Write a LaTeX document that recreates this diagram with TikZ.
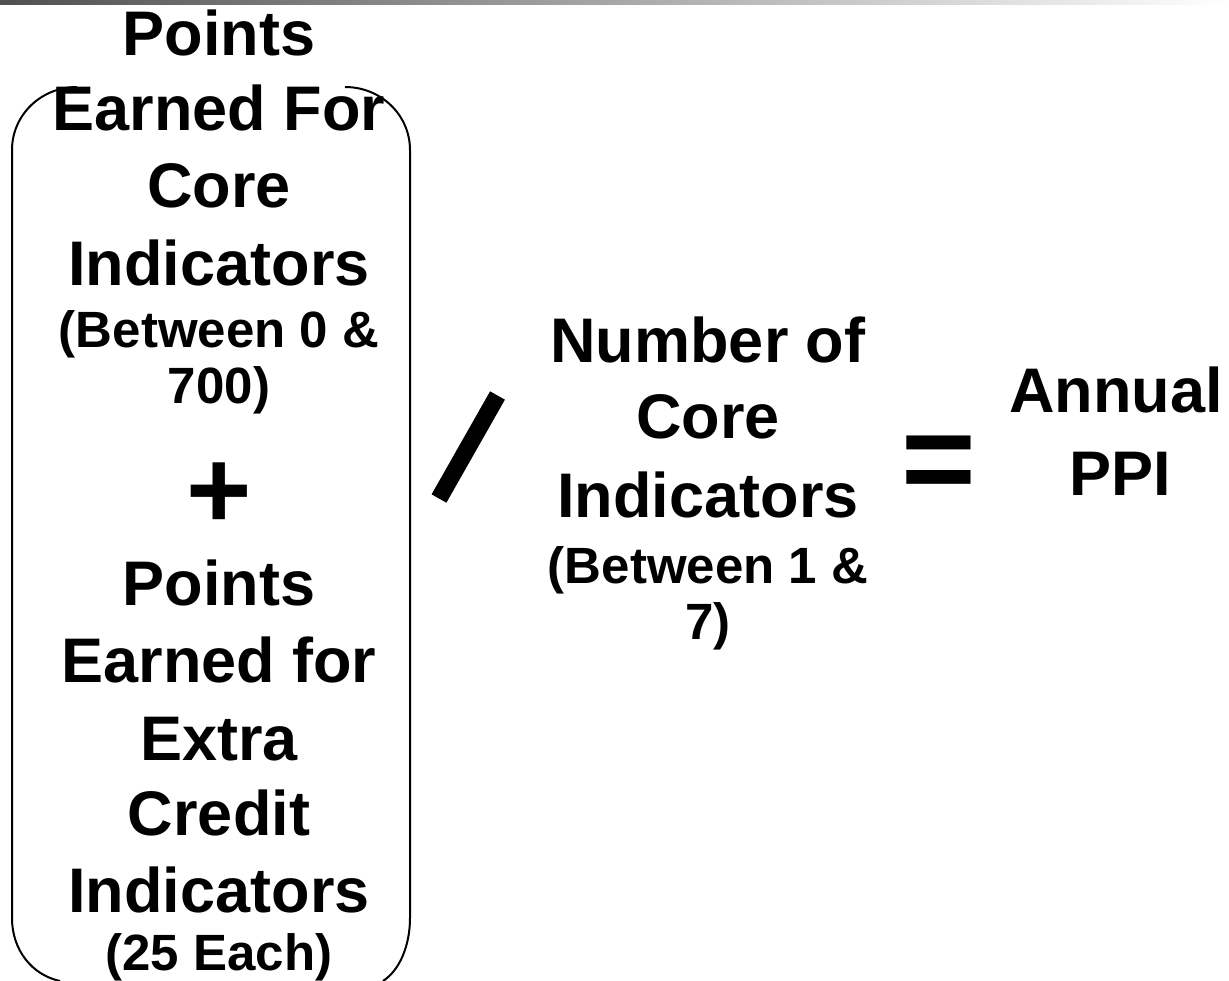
\documentclass[tikz,border=0pt]{standalone}
\usepackage{fontspec}
\setmainfont{Liberation Sans}
\begin{document}
\begin{tikzpicture}[x=1pt,y=-1pt,
  big/.style={font=\fontsize{63}{75}\selectfont\bfseries, anchor=base, inner sep=0pt},
  small/.style={font=\fontsize{51}{60}\selectfont\bfseries, anchor=base, inner sep=0pt},
  plussym/.style={font=\fontsize{112}{130}\selectfont\bfseries, anchor=base, inner sep=0pt},
  eqsym/.style={font=\fontsize{128}{150}\selectfont\bfseries, anchor=base, inner sep=0pt},
  bracket/.style={line width=2pt},
  slashbar/.style={line width=17pt}]
\useasboundingbox (0,0) rectangle (1229,980);
% top gradient bar
\shade[left color={rgb,255:red,80;green,80;blue,80}, right color=white] (0,0) rectangle (1229,4);
% bracket pair
\draw[bracket] (77,87) .. controls (41,87) and (12,115) .. (12,150) -- (12,918)
  .. controls (12,950) and (32,975) .. (60,981);
\draw[bracket] (345,87) .. controls (381,87) and (410,115) .. (410,150) -- (410,918)
  .. controls (410,945) and (400,970) .. (383,981);
% left column
\node[big] (l1) at (219,55) {Points};
\node[big] (l2) at (219,130) {Earned For};
\node[big] (l3) at (219,207) {Core};
\node[big] (l4) at (219,285) {Indicators};
\node[small] (l5) at (219,347) {(Between 0 \&};
\node[small] (l6) at (219,403) {700)};
\node[plussym] (plus) at (219,528) {+};
\node[big] (l7) at (219,605) {Points};
\node[big] (l8) at (219,682) {Earned for};
\node[big] (l9) at (219,760) {Extra};
\node[big] (l10) at (219,835) {Credit};
\node[big] (l11) at (219,912) {Indicators};
\node[small] (l12) at (219,970) {(25 Each)};
% slash
\coordinate (s1) at (497.5,395.5);
\coordinate (s2) at (439,498.5);
\draw[slashbar] (s1) -- (s2);
% middle column
\node[big] (m1) at (708,362) {Number of};
\node[big] (m2) at (708,438) {Core};
\node[big] (m3) at (708,517) {Indicators};
\node[small] (m4) at (708,583) {(Between 1 \&};
\node[small] (m5) at (708,639) {7)};
% equals
\node[eqsym] (eq) at (939,502) {=};
% right
\node[big] (r1) at (1116,412) {Annual};
\node[big] (r2) at (1120,495) {PPI};
\end{tikzpicture}
\end{document}
